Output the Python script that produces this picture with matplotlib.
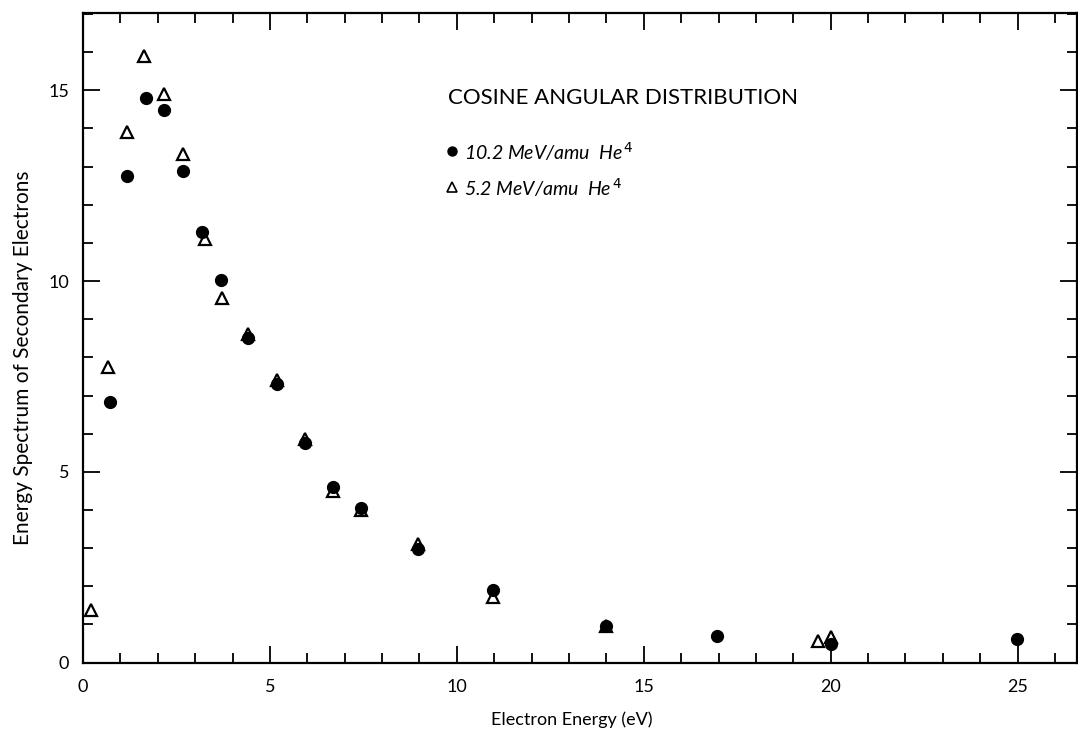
import numpy as np
import matplotlib.pyplot as plt
from matplotlib.ticker import MultipleLocator

# 10.2 MeV/amu He4 (filled circles)
x_circ = [0.72, 1.18, 1.68, 2.17, 2.67, 3.18, 3.69, 4.41, 5.2, 5.94, 6.68, 7.43,
          8.96, 10.96, 14.0, 16.97, 20.0, 24.98]
y_circ = [6.82, 12.75, 14.8, 14.48, 12.88, 11.28, 10.04, 8.5, 7.3, 5.75, 4.6, 4.05,
          2.98, 1.9, 0.97, 0.71, 0.5, 0.62]

# 5.2 MeV/amu He4 (open triangles)
x_tri = [0.21, 0.67, 1.17, 1.63, 2.17, 2.67, 3.26, 3.72, 4.41, 5.2, 5.94, 6.68,
         7.43, 8.96, 10.96, 14.0, 19.65, 20.0]
y_tri = [1.39, 7.76, 13.9, 15.9, 14.9, 13.32, 11.1, 9.55, 8.6, 7.4, 5.85, 4.5,
         4.0, 3.1, 1.72, 0.97, 0.57, 0.66]

plt.rcParams['font.family'] = ['Lato', 'DejaVu Sans']

fig = plt.figure(figsize=(10.78, 7.29), dpi=100)
ax = fig.add_axes([0.077, 0.091, 0.9225, 0.891])

ax.plot(x_tri, y_tri, linestyle='none', marker='^', markersize=9,
        markerfacecolor='white', markeredgecolor='black', markeredgewidth=1.6)
ax.plot(x_circ, y_circ, linestyle='none', marker='o', markersize=8.5,
        color='black')

ax.set_xlim(0, 26.6)
ax.set_ylim(0, 17.02)
ax.xaxis.set_major_locator(MultipleLocator(5))
ax.xaxis.set_minor_locator(MultipleLocator(1))
ax.yaxis.set_major_locator(MultipleLocator(5))
ax.yaxis.set_minor_locator(MultipleLocator(1))
ax.tick_params(which='both', direction='in', top=True, right=True, width=1.3)
ax.tick_params(which='major', length=12, labelsize=13)
ax.tick_params(axis='x', which='major', pad=12)
ax.tick_params(axis='y', which='major', pad=10)
ax.tick_params(which='minor', length=7)
for s in ax.spines.values():
    s.set_linewidth(1.6)

ax.set_xlabel('Electron Energy (eV)', fontsize=13)
ax.set_ylabel('Energy Spectrum of Secondary Electrons', fontsize=15)
ax.xaxis.set_label_coords(0.491, -0.075)
ax.yaxis.set_label_coords(-0.05, 0.47)

ax.text(9.77, 14.8, 'COSINE ANGULAR DISTRIBUTION', fontsize=16, va='center')
ax.plot([9.88], [13.4], marker='o', markersize=6.5, color='black')
ax.text(10.2, 13.4, r'10.2 MeV/amu  He$^{\,4}$', fontsize=14, style='italic',
        va='center')
ax.plot([9.88], [12.46], marker='^', markersize=6.5, markerfacecolor='white',
        markeredgecolor='black', markeredgewidth=1.2)
ax.text(10.2, 12.46, r'5.2 MeV/amu  He$^{\,4}$', fontsize=14, style='italic',
        va='center')

fig.savefig('out.png', dpi=100)
